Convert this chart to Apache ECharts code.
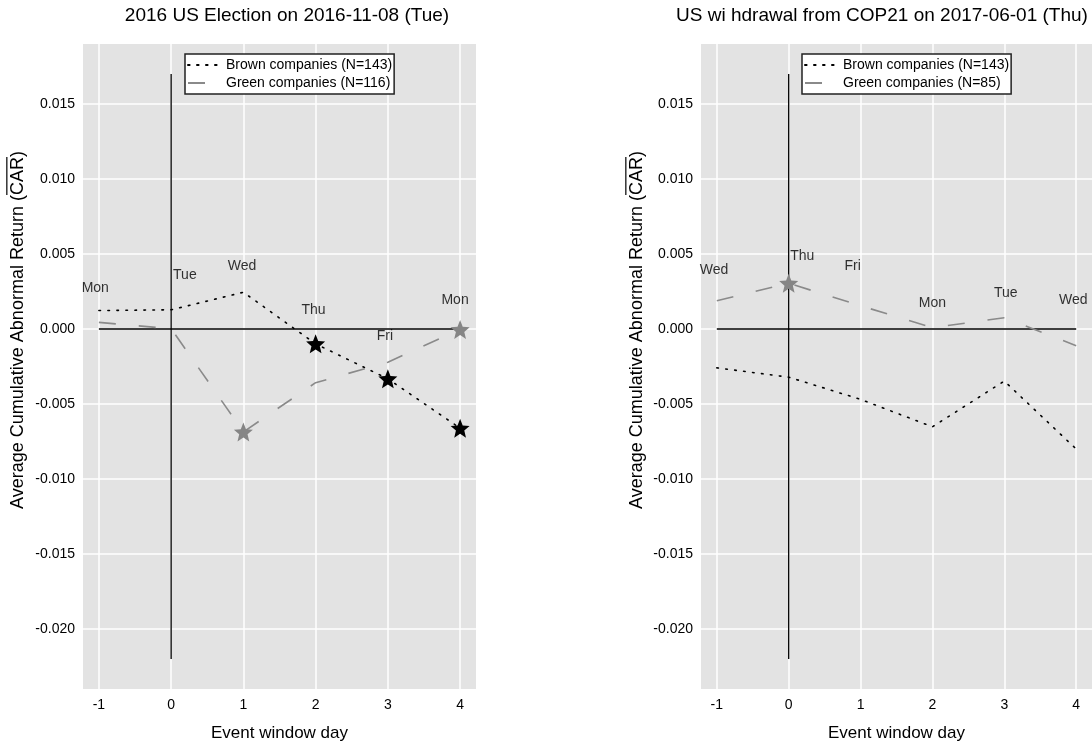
<!DOCTYPE html>
<html>
<head>
<meta charset="utf-8">
<script src="https://cdn.jsdelivr.net/npm/echarts@6/dist/echarts.min.js"></script>
<style>
html,body{margin:0;padding:0;background:#fff;}
#c{width:1092px;height:747px;}
</style>
</head>
<body>
<div id="c"></div>
<script>
// ---------------- data ----------------
const days = [-1, 0, 1, 2, 3, 4];
const xTicks = [-1, 0, 1, 2, 3, 4];
const yTicks = [-0.020, -0.015, -0.010, -0.005, 0.000, 0.005, 0.010, 0.015];

const electionTitle = '2016 US Election on 2016-11-08 (Tue)';
const brownElection = [0.00123, 0.00128, 0.00245, -0.00099, -0.00332, -0.00661];
const greenElection = [0.00044, 0.00002, -0.00686, -0.00358, -0.00221, -0.00003];
const brownElectionSig = [0, 0, 0, 1, 1, 1];
const greenElectionSig = [0, 0, 1, 0, 0, 1];
const electionDayNames = ['Mon', 'Tue', 'Wed', 'Thu', 'Fri', 'Mon'];
const electionLabelX = [-1.05, 0.19, 0.98, 1.97, 2.96, 3.93];
const electionLabelY = [0.00272, 0.0036, 0.00422, 0.00128, -0.00049, 0.0019];
const electionBrownName = 'Brown companies (N=143)';
const electionGreenName = 'Green companies (N=116)';

const copTitle = 'US wi hdrawal from COP21 on 2017-06-01 (Thu)';
const brownCop = [-0.00259, -0.00321, -0.00469, -0.00652, -0.00347, -0.0080];
const greenCop = [0.00188, 0.00305, 0.00155, 0.00009, 0.00075, -0.00111];
const brownCopSig = [0, 0, 0, 0, 0, 0];
const greenCopSig = [0, 1, 0, 0, 0, 0];
const copDayNames = ['Wed', 'Thu', 'Fri', 'Mon', 'Tue', 'Wed'];
const copLabelX = [-1.04, 0.19, 0.89, 2.0, 3.02, 3.96];
const copLabelY = [0.00393, 0.00486, 0.00422, 0.00174, 0.00241, 0.00194];
const copBrownName = 'Brown companies (N=143)';
const copGreenName = 'Green companies (N=85)';

const zeroLineX = [-1, 4];
const eventLineY = [-0.022, 0.017];
const xRange = [-1.22, 4.22];
const yRange = [-0.024, 0.019];

const yTitleMain = 'Average Cumulative Abnormal Return (';
const yTitleBar = 'CAR';
const yTitleEnd = ')';
const xTitle = 'Event window day';

// ---------------- helpers ----------------
const FONT = "'Liberation Sans', Arial, sans-serif";

function starPath() {
  const pts = [];
  const R = 50, r = 22;
  for (let i = 0; i < 10; i++) {
    const a = -Math.PI / 2 + i * Math.PI / 5;
    const rad = i % 2 === 0 ? R : r;
    pts.push((50 + rad * Math.cos(a)).toFixed(2) + ',' + (50 + rad * Math.sin(a)).toFixed(2));
  }
  return 'path://M' + pts.join(' L') + ' Z';
}
const STAR = starPath();

function pairs(xs, ys) { return xs.map((x, i) => [x, ys[i]]); }
function sigPoints(xs, ys, sig) { return xs.map((x, i) => [x, ys[i]]).filter((p, i) => sig[i]); }

function buildSeries(gi, brown, green, brownSig, greenSig, names, lx, ly, bName, gName) {
  return [
    { type: 'line', xAxisIndex: gi, yAxisIndex: gi, silent: true, symbol: 'none', z: 3,
      data: zeroLineX.map(x => [x, 0]), lineStyle: { color: '#000', width: 1.3 } },
    { type: 'line', xAxisIndex: gi, yAxisIndex: gi, silent: true, symbol: 'none', z: 3,
      data: eventLineY.map(y => [0, y]), lineStyle: { color: '#000', width: 1.3 } },
    { name: bName, type: 'line', xAxisIndex: gi, yAxisIndex: gi, symbol: 'none', z: 4,
      data: pairs(days, brown), itemStyle: { color: '#000' },
      lineStyle: { color: '#000', width: 1.6, type: [1.6, 7.4], cap: 'round' } },
    { name: gName, type: 'line', xAxisIndex: gi, yAxisIndex: gi, symbol: 'none', z: 4,
      data: pairs(days, green), itemStyle: { color: '#8a8a8a' },
      lineStyle: { color: '#8a8a8a', width: 1.6, type: [17, 23] } },
    { type: 'scatter', xAxisIndex: gi, yAxisIndex: gi, symbol: STAR, symbolSize: 19, z: 6,
      data: sigPoints(days, brown, brownSig), itemStyle: { color: '#000', opacity: 1 } },
    { type: 'scatter', xAxisIndex: gi, yAxisIndex: gi, symbol: STAR, symbolSize: 19, z: 6,
      data: sigPoints(days, green, greenSig), itemStyle: { color: '#858585', opacity: 1 } },
    { type: 'scatter', xAxisIndex: gi, yAxisIndex: gi, symbolSize: 1, z: 7, silent: true,
      itemStyle: { color: 'rgba(0,0,0,0)' },
      data: names.map((n, i) => ({ name: n, value: [lx[i], ly[i]] })),
      label: { show: true, position: 'inside', formatter: p => p.name,
        color: '#000', fontSize: 14, fontFamily: FONT } }
  ];
}

function axisX(gi) {
  return {
    type: 'value', gridIndex: gi, min: xRange[0], max: xRange[1],
    axisLine: { show: false },
    axisTick: { show: false, customValues: xTicks },
    axisLabel: { customValues: xTicks, margin: 9, color: '#000', fontSize: 14, fontFamily: FONT,
      formatter: v => String(Math.round(v)) },
    splitLine: { show: true, lineStyle: { color: '#fff', width: 1.5 } },
    name: xTitle, nameLocation: 'middle', nameGap: 36,
    nameTextStyle: { color: '#000', fontSize: 17, fontFamily: FONT }
  };
}
function axisY(gi) {
  return {
    type: 'value', gridIndex: gi, min: yRange[0], max: yRange[1],
    axisLine: { show: false },
    axisTick: { show: false, customValues: yTicks },
    axisLabel: { customValues: yTicks, margin: 8, color: '#000', fontSize: 14, fontFamily: FONT,
      formatter: v => v.toFixed(3) },
    splitLine: { show: true, lineStyle: { color: '#fff', width: 1.5 } }
  };
}

function legendAt(left, names) {
  return {
    data: names, left: left, top: 54, orient: 'vertical',
    backgroundColor: '#fff', borderColor: '#222', borderWidth: 1.5,
    padding: [4, 2, 4, 2], itemGap: 4, itemWidth: 33, itemHeight: 14,
    selectedMode: false,
    itemStyle: { color: 'rgba(0,0,0,0)', borderWidth: 0, opacity: 0 },
    textStyle: { color: '#000', fontSize: 14, fontFamily: FONT }
  };
}

// measure text for the overline on CAR
const mctx = document.createElement('canvas').getContext('2d');
const YT_SIZE = 18;
mctx.font = YT_SIZE + 'px ' + FONT;
const wMain = mctx.measureText(yTitleMain).width;
const wBar = mctx.measureText(yTitleBar).width;
const wEnd = mctx.measureText(yTitleEnd).width;
const wAll = wMain + wBar + wEnd;

function yTitle(cx, cy) {
  return {
    type: 'group', x: cx, y: cy, rotation: Math.PI / 2,
    children: [
      { type: 'text', x: -wAll / 2, y: 0,
        style: { text: yTitleMain + yTitleBar + yTitleEnd, fill: '#000', font: YT_SIZE + 'px ' + FONT,
          textAlign: 'left', textVerticalAlign: 'middle' } },
      { type: 'line', shape: { x1: -wAll / 2 + wMain, y1: -YT_SIZE * 0.62, x2: -wAll / 2 + wMain + wBar, y2: -YT_SIZE * 0.62 },
        style: { stroke: '#000', lineWidth: 1.2 } }
    ]
  };
}

const chart = echarts.init(document.getElementById('c'), null, { renderer: 'canvas' });
chart.setOption({
  animation: false,
  backgroundColor: '#fff',
  grid: [
    { left: 83, top: 44, width: 393, height: 648, show: true, backgroundColor: '#e3e3e3', borderWidth: 0 },
    { left: 701, top: 44, width: 393, height: 648, show: true, backgroundColor: '#e3e3e3', borderWidth: 0 }
  ],
  xAxis: [axisX(0), axisX(1)],
  yAxis: [axisY(0), axisY(1)],
  legend: [legendAt(185, [electionBrownName, electionGreenName]), legendAt(802, [copBrownName, copGreenName])],
  graphic: [
    { type: 'text', x: 287, y: 16, style: { text: electionTitle, fill: '#000', font: '19px ' + FONT, textAlign: 'center', textVerticalAlign: 'middle' } },
    { type: 'text', x: 882, y: 16, style: { text: copTitle, fill: '#000', font: '19px ' + FONT, textAlign: 'center', textVerticalAlign: 'middle' } },
    yTitle(18, 330),
    yTitle(637, 330)
  ],
  series: [].concat(
    buildSeries(0, brownElection, greenElection, brownElectionSig, greenElectionSig,
      electionDayNames, electionLabelX, electionLabelY, electionBrownName, electionGreenName),
    buildSeries(1, brownCop, greenCop, brownCopSig, greenCopSig,
      copDayNames, copLabelX, copLabelY, copBrownName, copGreenName)
  )
});
</script>
</body>
</html>
